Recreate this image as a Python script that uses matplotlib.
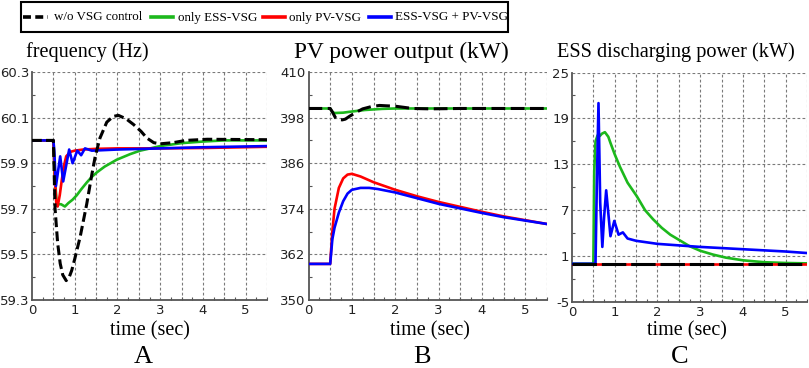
import numpy as np
import matplotlib
matplotlib.use("Agg")
import matplotlib.pyplot as plt
from matplotlib.lines import Line2D
from matplotlib.patches import Rectangle

#### data (time in sec)

# A: frequency (Hz)
t_f_blk = [0, 0.5, 0.54, 0.6, 0.66, 0.72, 0.8, 0.87, 0.93, 1.0, 1.125, 1.28, 1.4, 1.48, 1.59,
           1.75, 1.9, 2.02, 2.2, 2.375, 2.55, 2.69, 2.85, 3.0, 3.3, 3.6, 4.1, 5.5]
f_blk = [60.0, 60.0, 59.7, 59.55, 59.46, 59.41, 59.385, 59.40, 59.43, 59.48, 59.575, 59.72, 59.85,
         59.93, 60.01, 60.08, 60.105, 60.11, 60.095, 60.07, 60.04, 60.01, 59.99, 59.985, 59.99,
         60.0, 60.005, 60.003]
t_f_ess = [0, 0.5, 0.53, 0.58, 0.62, 0.68, 0.77, 0.85, 0.95, 1.05, 1.15, 1.28, 1.4, 1.52, 1.7,
           1.98, 2.3, 2.53, 3.0, 3.5, 4.0, 4.5, 5.5]
f_ess = [60.0, 60.0, 59.85, 59.72, 59.72, 59.72, 59.71, 59.725, 59.74, 59.76, 59.785, 59.815,
         59.84, 59.86, 59.885, 59.915, 59.94, 59.955, 59.975, 59.988, 59.995, 60.0, 60.0]
t_f_pv = [0, 0.5, 0.53, 0.57, 0.6, 0.65, 0.7, 0.75, 0.8, 0.9, 1.0, 1.2, 1.5, 2.0, 3.0, 4.1, 5.5]
f_pv = [60.0, 60.0, 59.85, 59.72, 59.71, 59.76, 59.83, 59.89, 59.93, 59.95, 59.955, 59.96, 59.963,
        59.965, 59.965, 59.967, 59.972]
t_f_both = [0, 0.5, 0.52, 0.56, 0.66, 0.73, 0.87, 0.95, 1.06, 1.15, 1.24, 1.4, 2.0, 3.0, 4.0, 5.5]
f_both = [60.0, 60.0, 59.96, 59.8, 59.93, 59.82, 59.96, 59.9, 59.955, 59.935, 59.965, 59.955,
          59.96, 59.965, 59.97, 59.975]

# B: PV power output (kW)
t_p_blk = [0, 0.5, 0.55, 0.62, 0.67, 0.78, 0.85, 0.94, 1.1, 1.25, 1.45, 1.64, 1.8, 2.0, 2.2, 2.4,
           2.8, 3.5, 5.5]
p_blk = [400.4, 400.4, 399.5, 398.0, 397.5, 397.4, 397.6, 398.3, 399.4, 400.3, 400.9, 401.2,
         401.1, 401.0, 400.7, 400.4, 400.3, 400.4, 400.4]
t_p_ess = [0, 0.5, 0.55, 0.6, 0.8, 1.0, 1.3, 1.7, 2.0, 5.5]
p_ess = [400.4, 400.4, 399.5, 399.2, 399.3, 399.6, 400.0, 400.3, 400.4, 400.4]
t_p_pv = [0, 0.5, 0.55, 0.6, 0.7, 0.8, 0.9, 1.0, 1.2, 1.5, 2.0, 2.5, 3.0, 3.5, 4.0, 4.5, 5.0, 5.5]
p_pv = [359.5, 359.5, 368, 374, 379.5, 382, 383, 383.2, 382.5, 381, 379, 377.3, 375.8, 374.5,
        373.2, 372, 371, 370]
t_p_both = [0, 0.5, 0.55, 0.6, 0.7, 0.8, 0.9, 1.0, 1.2, 1.4, 1.6, 2.0, 2.5, 3.0, 3.5, 4.0, 4.5,
            5.0, 5.5]
p_both = [359.5, 359.5, 366, 369, 373, 376, 378, 379, 379.5, 379.5, 379.2, 378.3, 376.8, 375.3,
          374.1, 372.9, 371.8, 370.9, 370]

# C: ESS discharging power (kW)
t_e_blk = [0, 5.5]
e_blk = [0, 0]
t_e_pv = [0, 5.5]
e_pv = [0, 0]
t_e_ess = [0, 0.5, 0.52, 0.55, 0.6, 0.65, 0.7, 0.77, 0.85, 0.9, 1.0, 1.12, 1.3, 1.52, 1.71, 1.9,
           2.1, 2.3, 2.6, 2.75, 3.0, 3.3, 3.6, 4.0, 4.5, 5.0, 5.5]
e_ess = [0, 0, 12, 16.0, 16.8, 16.7, 17.0, 17.2, 16.6, 15.8, 14.3, 12.7, 10.6, 8.8, 7.0, 5.8,
         4.7, 3.8, 2.8, 2.3, 1.7, 1.2, 0.8, 0.45, 0.2, 0.1, 0.05]
t_e_both = [0, 0.55, 0.58, 0.62, 0.66, 0.71, 0.75, 0.8, 0.9, 0.99, 1.09, 1.19, 1.3, 1.5, 2.0,
            2.5, 3.0, 3.5, 4.0, 4.5, 5.0, 5.5]
e_both = [0, 0, 10, 21, 8, 2.2, 6, 9.6, 3.6, 5.6, 3.8, 4.1, 3.3, 3.0, 2.6, 2.4, 2.2, 2.05,
          1.9, 1.75, 1.6, 1.4]

labels = ['w/o VSG control', 'only ESS-VSG', 'only PV-VSG', 'ESS-VSG + PV-VSG']
colors = ['black', '#1cb81c', '#ff0000', '#0000ff']

#### figure
W, H = 809, 368
fig = plt.figure(figsize=(W / 100, H / 100), dpi=100)

def px(x0, y0, x1, y1):
    return [x0 / W, 1 - y1 / H, (x1 - x0) / W, (y1 - y0) / H]

serif = 'Liberation Serif'

panels = [
    dict(rect=px(32, 72, 267, 300), ylim=(59.3, 60.3), ystep=0.2, fmt='%.1f',
         title='frequency (Hz)', tx=87, tsize=14.5, lx=150, letter='A', lettx=143,
         data=[(t_f_ess, f_ess), (t_f_pv, f_pv), (t_f_both, f_both), (t_f_blk, f_blk)],
         dash=(3.2, 1.4)),
    dict(rect=px(308.5, 72, 547, 300), ylim=(350, 410), ystep=12, fmt='%d',
         title='PV power output (kW)', tx=401, tsize=16.8, lx=430, letter='B', lettx=422,
         data=[(t_p_ess, p_ess), (t_p_pv, p_pv), (t_p_both, p_both), (t_p_blk, p_blk)],
         dash=(4.5, 1.8)),
    dict(rect=px(572, 72.5, 807, 302), ylim=(-5, 25), ystep=6, fmt='%d',
         title='ESS discharging power (kW)', tx=676, tsize=14.6, lx=687, letter='C', lettx=680,
         data=[(t_e_ess, e_ess), (t_e_pv, e_pv), (t_e_both, e_both), (t_e_blk, e_blk)],
         dash=(8, 1.6)),
]

for p in panels:
    ax = fig.add_axes(p['rect'])
    y0, y1 = p['ylim']
    ax.set_xlim(0, 5.5)
    ax.set_ylim(y0, y1)
    # dashed grid (incl. top and right edge)
    for gx in np.arange(0.5, 5.51, 0.5):
        ax.axvline(gx, color='#7a7a7a', lw=0.8, ls=(0, (2.5, 2)), zorder=1)
    for gy in np.arange(y0 + p['ystep'], y1 + 1e-6, p['ystep']):
        ax.axhline(gy, color='#7a7a7a', lw=0.8, ls=(0, (2.5, 2)), zorder=1)

    order = [1, 2, 3, 0]  # green, red, blue, then black dashed on top
    for k, (t, v) in zip(order, p['data']):
        if k == 0:
            ax.plot(t, v, color='black', lw=2.2, ls=(0, p['dash']), zorder=5)
        else:
            ax.plot(t, v, color=colors[k], lw=1.9, zorder=2 + k)

    ax.set_xticks(np.arange(0, 6, 1))
    ax.set_xticks(np.arange(0, 5.51, 0.25), minor=True)
    ax.set_yticks(np.arange(y0, y1 + 1e-6, p['ystep']))
    ax.set_yticks(np.arange(y0, y1 + 1e-6, p['ystep'] / 2), minor=True)
    ax.yaxis.set_major_formatter(matplotlib.ticker.FormatStrFormatter(p['fmt']))
    ax.tick_params(which='both', direction='in', color='#555555', width=0.8)
    ax.tick_params(which='major', length=0, labelsize=9.5, pad=2, colors='#222222')
    ax.tick_params(which='minor', length=2.5)
    ax.tick_params(axis='x', which='major', pad=3)
    for s in ['top', 'right']:
        ax.spines[s].set_visible(False)
    for s in ['left', 'bottom']:
        ax.spines[s].set_color('#555555')
        ax.spines[s].set_linewidth(1.3)

    fig.text(p['tx'] / W, 1 - 52 / H, p['title'], family=serif, size=p['tsize'],
             ha='center', va='center')
    fig.text(p['lx'] / W, 1 - 331 / H, 'time (sec)', family=serif, size=14.5,
             ha='center', va='center')
    fig.text(p['lettx'] / W, 1 - 357 / H, p['letter'], family=serif, size=19,
             ha='center', va='center')

#### legend box across the top, laid out by hand
fig.patches.append(Rectangle((21 / W, 1 - 32 / H), 487 / W, 30 / H, transform=fig.transFigure,
                             fill=False, edgecolor='black', lw=1.5))
handle_x = [(23, 48), (151, 173), (263, 285), (369, 391)]
text_x = [54, 178, 289, 395]
for k in range(4):
    xa, xb = handle_x[k]
    if k == 0:
        fig.add_artist(Line2D([xa / W, xb / W], [1 - 17 / H] * 2, color='black', lw=2.6,
                              ls=(0, (2.2, 1.2))))
    else:
        fig.add_artist(Line2D([xa / W, xb / W], [1 - 17 / H] * 2, color=colors[k], lw=2.6))
    fig.text(text_x[k] / W, 1 - 17.5 / H, labels[k], family=serif, size=9.4,
             ha='left', va='center')

fig.savefig('out.png', dpi=100)
